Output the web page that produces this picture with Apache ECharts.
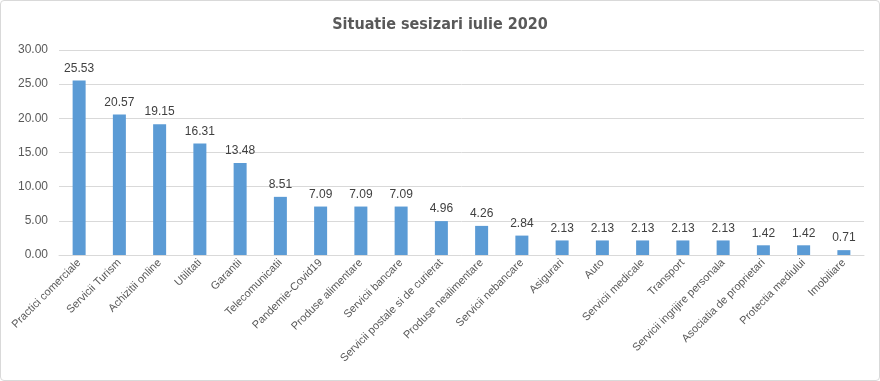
<!DOCTYPE html>
<html><head><meta charset="utf-8">
<script src="https://cdn.jsdelivr.net/npm/echarts@6/dist/echarts.min.js"></script>
<style>html,body{margin:0;padding:0;background:#fff}#c{width:880px;height:381px;box-sizing:border-box;border:1px solid #d9d9d9;border-radius:4px}</style>
</head><body><div id="c"></div>
<script>
const categories = ["Practici comerciale","Servicii Turism","Achizitii online","Utilitati","Garantii","Telecomunicatii","Pandemie-Covid19","Produse alimentare","Servicii bancare","Servicii postale si de curierat","Produse nealimentare","Servicii nebancare","Asigurari","Auto","Servicii medicale","Transport","Servicii ingrijire personala","Asociatia de proprietari","Protectia mediului","Imobiliare"];
const values = [25.53,20.57,19.15,16.31,13.48,8.51,7.09,7.09,7.09,4.96,4.26,2.84,2.13,2.13,2.13,2.13,2.13,1.42,1.42,0.71];
const yTicks = [0,5,10,15,20,25,30];
const chart = echarts.init(document.getElementById('c'));
chart.setOption({
  animation:false,
  title:{text:'Situatie sesizari iulie 2020',left:'center',top:11,textStyle:{fontFamily:'Liberation Sans Narrow, DejaVu Sans Condensed, Liberation Sans',fontSize:16,fontWeight:'bold',color:'#595959'}},
  grid:{left:58,right:15,top:49,bottom:125},
  xAxis:{type:'category',data:categories,axisTick:{show:false},axisLine:{lineStyle:{color:'#d9d9d9'}},
    axisLabel:{rotate:45,interval:0,color:'#595959',fontFamily:'Liberation Sans',fontSize:11,margin:6}},
  yAxis:{type:'value',min:yTicks[0],max:yTicks[yTicks.length-1],interval:5,
    axisLabel:{formatter:v=>v.toFixed(2),color:'#595959',fontFamily:'Liberation Sans',fontSize:12,margin:11},
    splitLine:{lineStyle:{color:'#d9d9d9'}},axisLine:{show:false},axisTick:{show:false}},
  series:[{type:'bar',data:values,barWidth:13,itemStyle:{color:'#5b9bd5'},
    label:{show:true,position:'top',distance:6,formatter:p=>p.value.toFixed(2),color:'#404040',fontFamily:'Liberation Sans',fontSize:12}}]
});
</script></body></html>
